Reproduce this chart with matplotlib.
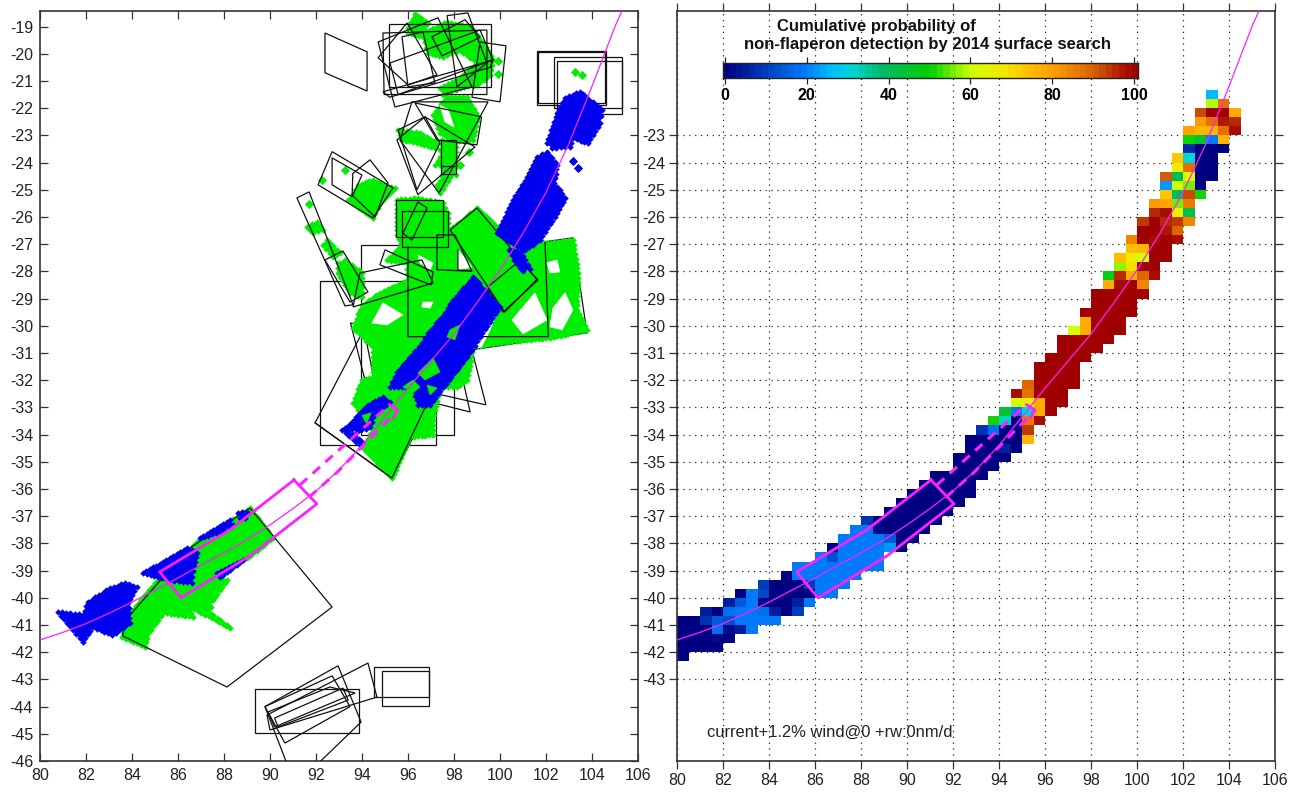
import numpy as np
import matplotlib
matplotlib.use("Agg")
import matplotlib.pyplot as plt
from matplotlib.colors import LinearSegmentedColormap
from matplotlib.patches import Polygon

plt.rcParams['font.family'] = ['Liberation Sans', 'DejaVu Sans']
plt.rcParams['axes.unicode_minus'] = False

X_TICKS = list(range(80, 107, 2))
Y_TICKS_LEFT = list(range(-46, -18))
Y_TICKS_RIGHT = list(range(-43, -22))
LON_RANGE = (80, 106)
LAT_RANGE = (-46, -18.43)

ARC_LON = [80, 81, 82, 83, 84, 85, 86, 87, 88, 89, 90, 91, 92, 93, 94, 95, 96, 97, 98, 99, 100, 101, 102, 103, 104, 105, 105.3]
ARC_LAT = [-41.55, -41.27, -40.95, -40.57, -40.16, -39.72, -39.27, -38.8, -38.35, -37.87, -37.32, -36.72, -36.08, -35.3,
           -34.4, -33.35, -32.3, -31.3, -30.3, -29.15, -27.95, -26.6, -25.1, -23.3, -21.2, -19.0, -18.43]
BOX_LON = [91.04, 92.04, 90.13, 89.13, 86.13, 85.2, 88.26, 91.04]
BOX_LAT = [-35.67, -36.55, -37.8, -38.46, -40.0, -39.05, -37.5, -35.67]
DASH_A = ([91.3, 95.2], [-35.85, -32.9])
DASH_B = ([91.7, 92.9, 95.57], [-36.3, -35.4, -33.1])
DASH_CAP = ([95.2, 95.57, 95.35], [-32.9, -33.1, -33.4])

# black survey outlines hidden below the green detections
LINES_UNDER = [
    [(92.17,-28.35),(92.17,-34.38),(97.2,-34.38),(97.2,-28.35)],
    [(93.96,-27.03),(93.96,-34),(98,-34),(98,-27.03)],
    [(91.96,-33.57),(94.78,-29),(98.12,-31.03),(95.3,-35.6)],
    [(99.39,-32.91),(98.78,-30.9),(93.5,-29.9),(94.1,-31.9)],
    [(98.7,-33.17),(98.26,-31.5),(94.2,-30.6),(94.6,-32.3)],
    [(103.17,-26.77),(103.78,-30.26),(98.39,-30.93),(97.8,-27.4)],
]
# black survey outlines visible on top of the green detections
LINES_OVER = [
    [(83.6,-41.4),(88.13,-43.28),(92.7,-40.34),(89.13,-36.7),(86.39,-38.24),(83.65,-40.89)],
    [(89.35,-43.35),(93.87,-43.35),(93.87,-44.97),(89.35,-44.97)],
    [(94.52,-42.54),(96.91,-42.54),(96.91,-43.65),(94.52,-43.65)],
    [(94.87,-42.69),(96.91,-42.69),(96.91,-43.98),(94.87,-43.98)],
    [(89.78,-44.0),(92.96,-42.5),(93.96,-44.57),(91.1,-46.9)],
    [(89.78,-44.0),(92.7,-42.87),(93.48,-44.0),(90.65,-45.34)],
    [(89.87,-44.31),(94.26,-42.4),(94.65,-43.65),(90.0,-44.86)],
    [(89.91,-44.2),(92.6,-43.28),(93.7,-43.5),(90.2,-44.75)],
    [(90.2,-44.42),(93.17,-43.32),(93.4,-43.76),(90.35,-44.75)],
    [(97.83,-26.48),(99.0,-25.67),(101.6,-28.3),(100.2,-29.5)],
    [(100.13,-29.5),(101.65,-28.32),(100.87,-27.6),(99.43,-28.6)],
    [(97.26,-26.66),(98.04,-26.66),(98.78,-28.0),(97.26,-27.94)],
    [(95.0,-27.21),(97.09,-28.02),(97.0,-28.5),(94.78,-27.76)],
    [(93.61,-29.31),(97.09,-28.43),(96.6,-27.58),(93.91,-28.06)],
    [(91.17,-25.3),(91.7,-25.08),(93.61,-29.23),(93.26,-29.27)],
    [(92.39,-27.58),(93.17,-27.25),(94.26,-28.76),(93.48,-29.13)],
    [(92.7,-23.6),(95.35,-24.93),(94.48,-26.04),(92.09,-24.82)],
    [(92.7,-23.83),(94.0,-24.46),(93.57,-25.26),(92.7,-24.82)],
    [(94.35,-23.9),(95.13,-24.75),(94.57,-26.0),(93.57,-25.2),(93.6,-24.4)],
    [(92.39,-19.24),(94.22,-19.93),(94.22,-21.37),(92.39,-20.7)],
    [(95.17,-18.9),(99.6,-18.9),(99.6,-21.22),(95.17,-21.22)],
    [(94.91,-19.24),(99.43,-19.13),(99.43,-21.5),(94.96,-21.5)],
    [(94.7,-19.57),(97.3,-18.68),(98.78,-21.22),(95.43,-21.96)],
    [(97.04,-19.38),(97.48,-20.08),(99.13,-19.4),(98.48,-18.75)],
    [(99.13,-19.57),(100.26,-19.71),(100.0,-21.77),(98.78,-21.6)],
    [(97.7,-18.6),(98.6,-18.5),(99.43,-20.34),(98.13,-21.22)],
    [(94.91,-21.4),(99.7,-20.23),(99.57,-20.5),(95.2,-21.6)],
    [(95.22,-20.34),(99.13,-19.13),(99.7,-20.23),(95.57,-21.5)],
    [(95.74,-19.38),(96.65,-19.2),(97.17,-21.07),(96.0,-21.22)],
    [(94.7,-20.15),(95.96,-18.87),(97.26,-20.78),(96.0,-21.15)],
    [(96.3,-21.81),(99.2,-22.32),(99.0,-23.35),(97.26,-23.17)],
    [(96.17,-21.77),(99.48,-21.77),(97.35,-25.12),(95.65,-23.17)],
    [(95.52,-23.17),(96.74,-22.32),(98.91,-23.43),(96.43,-25.18)],
    [(95.57,-22.8),(96.74,-22.32),(97.39,-23.28),(96.39,-25.0)],
    [(97.43,-23.17),(98.09,-23.17),(98.09,-24.42),(97.43,-24.42)],
    [(101.61,-19.9),(104.6,-19.9),(104.6,-21.88),(101.61,-21.88)],
    [(101.65,-19.95),(104.56,-19.95),(104.56,-21.82),(101.65,-21.82)],
    [(102.35,-20.12),(105.3,-20.12),(105.3,-21.99),(102.35,-21.99)],
    [(102.48,-20.26),(105.3,-20.26),(105.3,-22.2),(102.48,-22.2)],
    [(95.48,-25.37),(97.52,-25.37),(97.52,-26.74),(95.48,-26.74)],
    [(95.74,-25.78),(97.74,-25.78),(97.74,-27.1),(95.74,-27.1)],
    [(96.43,-25.45),(96.83,-25.67),(96.17,-26.85),(95.78,-26.6)],
]
STUBS_OVER = [
    [(96.0,-27.1),(96.0,-30.4),(102.1,-30.4),(101.96,-26.95)],
    [(98.17,-27.21),(98.17,-27.95),(98.7,-27.98)],
    [(91.96,-33.57),(95.3,-35.6),(97.3,-32.0)],
    [(97.48,-24.13),(98.09,-24.13)],
]

GREEN_AREAS = [
    [(83.56,-41.44),(84.57,-41.8),(84.7,-41.3),(85.35,-40.56),(86.65,-40.7),(86.4,-40.27),(88.26,-41.1),
     (87.4,-40.56),(87.5,-40.1),(88.13,-39.35),(87.7,-39.24),(89.13,-38.46),(90.13,-37.8),(89.13,-36.7),
     (86.83,-37.95),(85.35,-39.1),(83.7,-40.8)],
    [(93.61,-30.08),(94.0,-29.24),(94.78,-28.79),(95.96,-28.32),(95.96,-27.69),(95.09,-27.58),(95.52,-27.21),
     (96.09,-26.77),(97.26,-26.59),(99.87,-26.48),(102.04,-26.96),(103.17,-26.85),(103.39,-28.06),(103.35,-29.42),
     (103.78,-30.15),(102.17,-30.45),(99.87,-30.63),(98.83,-30.78),(98.57,-31.99),(98.13,-32.25),(97.39,-32.25),
     (97.09,-33.46),(97.09,-34.01),(96.09,-34.09),(95.3,-35.6),(94.0,-34.46),(94.48,-33.83),(93.61,-32.84),
     (94.0,-31.99),(94.48,-31.88),(94.48,-30.78)],
    [(97.83,-26.48),(99.0,-25.67),(100.2,-26.6),(100.6,-27.3),(99.0,-27.3)],
    [(96.3,-18.54),(96.87,-18.87),(96.52,-19.2),(96.0,-19.05)],
    [(96.0,-19.24),(96.65,-19.24),(97.7,-18.83),(98.7,-19.01),(99.26,-19.6),(99.7,-20.23),(99.57,-20.78),
     (99.0,-21.15),(98.26,-21.26),(97.52,-21.5),(97.39,-21.26),(98.26,-20.89),(99.0,-20.34),(98.26,-19.86),
     (97.52,-20.12),(96.87,-19.97),(96.65,-19.38)],
    [(97.7,-21.59),(98.57,-21.59),(99.04,-22.32),(98.83,-23.17),(98.04,-23.24),(97.39,-22.91),(97.09,-22.25)],
    [(95.57,-22.8),(96.52,-22.91),(97.26,-23.28),(97.39,-23.54),(97.17,-23.46),(96.39,-23.28),(95.74,-23.17)],
    [(97.48,-23.17),(98.09,-23.24),(98.09,-24.0),(97.17,-24.09),(97.52,-23.65)],
    [(97.48,-24.16),(98.09,-24.16),(98.09,-24.46),(97.48,-24.46)],
    [(97.52,-24.53),(97.83,-24.53),(97.39,-25.12),(97.26,-24.82)],
    [(93.57,-25.19),(93.83,-24.82),(94.48,-24.64),(95.09,-24.9),(95.43,-24.93),(94.78,-25.5),(94.48,-26.04),(93.39,-25.37)],
    [(91.61,-26.37),(92.04,-26.18),(92.3,-26.48),(91.87,-26.59)],
    [(92.48,-26.85),(93.04,-27.32),(92.74,-27.47),(92.3,-27.03)],
    [(92.96,-27.69),(93.26,-27.58),(94.0,-28.06),(94.0,-28.94),(93.48,-28.79),(92.96,-28.06)],
    [(95.52,-25.37),(96.43,-25.3),(97.52,-25.49),(97.74,-25.85),(97.74,-26.59),(97.26,-27.1),(95.78,-27.1),(95.52,-26.66)],
]
GREEN_GAPS = [
    [(94.43,-29.9),(94.91,-29.16),(95.78,-29.6),(95.09,-29.97)],
    [(100.52,-29.79),(101.52,-28.79),(102.04,-29.79),(101.0,-30.3)],
    [(102.3,-29.35),(102.83,-28.79),(103.17,-29.42),(102.7,-30.15),(102.17,-30.04)],
    [(102.04,-27.69),(102.48,-27.58),(102.6,-28.02),(102.17,-28.06)],
    [(98.91,-30.82),(99.87,-29.49),(99.57,-30.15),(99.2,-30.78)],
    [(96.65,-29.13),(97.09,-29.13),(96.96,-29.35),(96.6,-29.31)],
    [(96.43,-27.4),(97.09,-27.69),(96.96,-27.95),(96.52,-27.69)],
    [(98.17,-27.21),(98.78,-27.84),(98.17,-27.95)],
    [(97.4,-21.9),(97.75,-22.05),(98.0,-22.7),(97.6,-22.5)],
]
GREEN_DOT_LON = [99.91, 99.91, 91.7, 92.26, 93.26, 103.26, 103.57, 98.65, 98.26]
GREEN_DOT_LAT = [-20.27, -20.74, -25.52, -24.64, -24.27, -20.67, -20.78, -23.6, -24.09]

BLUE_AREAS = [
    [(80.78,-40.52),(81.87,-40.63),(82.09,-40.15),(83.04,-39.64),(83.7,-39.46),(84.2,-39.6),(83.83,-40.19),
     (83.91,-40.93),(83.13,-41.37),(82.3,-41.07),(81.87,-41.62),(81.43,-41.18)],
    [(84.48,-39.09),(85.35,-38.68),(86.39,-38.17),(86.83,-38.35),(86.65,-39.0),(86.6,-39.46),(85.65,-39.35),(85.13,-39.24)],
    [(86.96,-37.8),(88.26,-37.14),(88.39,-37.32),(87.83,-37.58)],
    [(88.6,-36.88),(89.0,-36.85),(88.91,-37.07),(88.7,-37.07)],
    [(87.7,-39.09),(88.57,-38.72),(88.83,-38.6),(88.26,-38.98),(87.83,-39.24)],
    [(103.48,-21.4),(104.43,-22.07),(104.35,-22.54),(103.83,-23.29),(103.17,-23.1),(103.04,-23.43),(102.26,-23.46),
     (102.04,-23.29),(102.48,-22.18),(102.83,-21.63)],
    [(102.04,-23.61),(102.48,-24.09),(102.35,-24.75),(102.83,-25.3),(102.48,-25.85),(101.74,-26.84),(101.09,-27.21),
     (100.43,-26.92),(99.87,-26.59),(100.57,-25.38),(101.17,-24.53),(101.61,-23.79)],
    [(98.26,-28.76),(98.83,-28.21),(99.43,-28.8),(100.0,-29.31),(99.13,-30.41),(98.78,-30.89),(98.13,-31.63),
     (97.52,-32.25),(96.96,-32.91),(96.43,-32.91),(96.22,-32.25),(95.22,-32.25),(95.52,-31.7),(96.17,-31.07),
     (96.61,-30.63),(96.87,-30.26),(97.48,-29.68),(97.96,-29.05)],
    [(93.35,-33.72),(94.26,-32.91),(94.91,-32.62),(95.22,-32.81),(94.57,-33.17),(94.35,-33.72),(93.78,-33.9)],
    [(93.13,-33.83),(93.26,-33.76),(94.0,-34.27),(93.91,-34.38)],
    [(100.4,-27.2),(100.9,-27.3),(101.3,-27.9),(101.0,-28.0),(100.6,-27.6)],
]
GREEN_IN_BLUE = [
    [(96.43,-31.74),(97.09,-31.18),(97.39,-31.7),(96.74,-31.99)],
    [(95.78,-32.25),(96.22,-31.99),(96.52,-32.25),(96.22,-32.47)],
    [(96.83,-32.18),(97.26,-32.29),(96.96,-32.54)],
    [(97.83,-30.15),(98.26,-29.97),(98.04,-30.52),(97.7,-30.41)],
    [(94.0,-33.3),(94.4,-33.2),(94.2,-33.6)],
]
BLUE_DOT_LON = [103.17, 103.39]
BLUE_DOT_LAT = [-23.94, -24.2]

# probability grid: each row runs (first longitude, cell values), top row first
HEAT_TOP_LAT = -21.3333
HEAT_ROWS = [
    (103.0,[25]),(103.0,[58,86]),(102.5,[92,99,99,78]),(102.5,[80,87,96,95]),(102.0,[79,75,75,86,98]),
    (102.0,[50,44,20,75]),(102.0,[7,0,0,0]),(101.5,[72,30,0,0]),(101.5,[66,86,0,0]),(101.0,[90,40,62,0,0]),
    (101.0,[23,60,55,0]),(101.0,[72,38,91,50]),(100.5,[80,79,55,85]),(100.5,[95,97,65,42]),(100.0,[93,99,95,93,84]),
    (100.0,[100,100,96,89]),(99.5,[83,100,98,100,97]),(99.5,[74,76,100,100]),(99.0,[74,66,60,100,100]),(99.0,[57,70,100,100]),
    (98.5,[47,95,78,88,97]),(98.5,[78,98,100,83]),(98.0,[100,100,100,100,100]),(98.0,[100,100,100,100]),(97.5,[100,100,100,100,100]),
    (97.5,[78,100,100,100]),(97.0,[60,78,100,100,100]),(96.5,[100,100,100,100,100]),(96.5,[100,100,100,100]),(96.0,[100,100,100,100]),
    (95.5,[100,100,100,100]),(95.5,[100,100,100,100]),(95.0,[88,100,100,100,100]),(94.5,[97,86,100,100,100]),(94.5,[60,66,78,100,100]),
    (94.0,[44,20,30,78,100]),(93.5,[50,32,0,85,97]),(93.0,[8,18,0,0,93]),(92.5,[0,0,0,0,0,76]),(92.5,[0,0,0,5,0]),
    (92.0,[0,0,0,0,0]),(92.0,[0,0,0,0]),(91.0,[0,0,0,0,0]),(90.5,[0,0,0,0,0]),(90.0,[0,0,0,0,0,0]),
    (89.5,[0,0,0,0,0,0]),(89.0,[0,0,0,0,0,0]),(88.0,[8,0,0,0,0,0,0]),(87.5,[20,20,3,0,0,0,0]),(87.0,[20,20,20,20,15,0,0]),
    (86.5,[0,20,20,20,20,22,0]),(86.0,[20,14,20,20,20,20]),(85.0,[20,20,20,20,20,20,20,20]),(84.5,[0,20,20,20,20,20,20]),
    (83.5,[10,0,0,0,10,20,20,20]),(82.5,[0,20,12,0,0,0,0,20,20]),(82.0,[5,15,20,3,0,0,6,20]),(81.0,[6,0,18,20,20,18,5,0,10]),
    (80.0,[0,0,8,15,14,20,20,20,20]),(80.0,[0,0,0,18,3,6,20]),(80.0,[0,0,0,2,0]),(80.0,[0,0,0,0]),(80.0,[0]),
]
CMAP_STOPS = [0, 10, 20, 26, 31, 38, 50, 56, 60, 68, 74, 80, 90, 96, 100]
CMAP_COLORS = ['#000080', '#0040c0', '#0080ff', '#00c0ff', '#00d8d0', '#00b868', '#00d000', '#80f000',
               '#d0ff00', '#f4e800', '#ffc000', '#ffa000', '#d86000', '#b02000', '#a00000']
CBAR_TICKS = [0, 20, 40, 60, 80, 100]
TITLE_LINES = ['Cumulative probability of', 'non-flaperon detection by 2014 surface search']
NOTE = 'current+1.2% wind@0 +rw:0nm/d'

W, H = 1301, 792
fig = plt.figure(figsize=(W / 100, H / 100), dpi=100)
axL = fig.add_axes([40 / W, (H - 761) / H, 598 / W, 750 / H])
axR = fig.add_axes([677 / W, (H - 761) / H, 598 / W, 750 / H])

GREEN, BLUE, MAG = '#00ee00', '#0000ee', '#ff20ff'
SPINE = '#333333'


def poly(ax, pts, **kw):
    ax.add_patch(Polygon(pts, **kw))


def rim(pts, step=0.16):
    """Walk a blob's outline so its edge can be stamped with diamond plot symbols."""
    out = []
    closed = list(pts) + [pts[0]]
    for (x0, y0), (x1, y1) in zip(closed[:-1], closed[1:]):
        n = max(1, int(np.hypot(x1 - x0, y1 - y0) / step))
        t = np.arange(n) / n
        out.extend(zip(x0 + (x1 - x0) * t, y0 + (y1 - y0) * t))
    return np.array(out)


def blob(ax, pts, colour, z):
    poly(ax, pts, fc=colour, ec=colour, lw=0.5, zorder=z)
    edge = rim(pts)
    ax.scatter(edge[:, 0], edge[:, 1], marker='D', s=11, c=colour, linewidths=0, zorder=z)


for ax in (axL, axR):
    ax.set_xlim(*LON_RANGE)
    ax.set_ylim(*LAT_RANGE)
    ax.set_xticks(X_TICKS)
    for s in ax.spines.values():
        s.set_color(SPINE)
        s.set_linewidth(1.2)

axL.set_yticks(Y_TICKS_LEFT)
axL.tick_params(direction='in', length=6, width=0.9, top=True, right=True, labelsize=11.5,
                labelcolor='#222222', color='#333333', pad=5)
axR.set_yticks(Y_TICKS_RIGHT)
axR.tick_params(direction='out', length=5.5, width=0.9, top=True, right=True, labelsize=11.5,
                labelcolor='#222222', color='#333333', pad=3)
axR.grid(True, color='#222222', linestyle=(0, (1, 3.7)), linewidth=0.9, zorder=0)
axR.set_axisbelow(True)

# left panel
for pts in LINES_UNDER:
    poly(axL, pts, fill=False, ec='#111111', lw=0.9, zorder=2)
for pts in GREEN_AREAS:
    blob(axL, pts, GREEN, 3)
axL.scatter(GREEN_DOT_LON, GREEN_DOT_LAT, marker='D', s=22, c=GREEN, linewidths=0, zorder=3)
for pts in GREEN_GAPS:
    poly(axL, pts, fc='white', ec='white', lw=0.5, zorder=3.2)
for pts in LINES_OVER:
    poly(axL, pts, fill=False, ec='#111111', lw=0.9, zorder=4)
for pts in STUBS_OVER:
    xs, ys = zip(*pts)
    axL.plot(xs, ys, color='#111111', lw=0.9, zorder=4)
for pts in BLUE_AREAS:
    blob(axL, pts, BLUE, 5)
for pts in GREEN_IN_BLUE:
    poly(axL, pts, fc=GREEN, ec=GREEN, lw=0.5, zorder=5.1)
axL.scatter(BLUE_DOT_LON, BLUE_DOT_LAT, marker='D', s=22, c=BLUE, linewidths=0, zorder=5)

# right panel
lon_edges = np.arange(LON_RANGE[0], LON_RANGE[1] + 0.25, 0.5)
lat_edges = HEAT_TOP_LAT - np.arange(len(HEAT_ROWS) + 1) / 3.0
grid = np.full((len(HEAT_ROWS), len(lon_edges) - 1), np.nan)
for r, (start, vals) in enumerate(HEAT_ROWS):
    c0 = int(round((start - LON_RANGE[0]) * 2))
    grid[r, c0:c0 + len(vals)] = vals
stops = [s / 100 for s in CMAP_STOPS]
cmap = LinearSegmentedColormap.from_list('search', list(zip(stops, CMAP_COLORS)), N=64)
axR.pcolormesh(lon_edges, lat_edges, grid, cmap=cmap, vmin=0, vmax=100, zorder=2, linewidth=0, antialiased=False)

for ax in (axL, axR):
    ax.plot(ARC_LON, ARC_LAT, color=MAG, lw=0.9, zorder=6)
    ax.plot(BOX_LON, BOX_LAT, color=MAG, lw=2.0, zorder=6, solid_joinstyle='round')
    for xs, ys in (DASH_A, DASH_B):
        ax.plot(xs, ys, color=MAG, lw=2.2, linestyle=(0, (3.2, 2.4)), zorder=6)
    ax.plot(*DASH_CAP, color=MAG, lw=1.8, zorder=6)

# colour bar
cax = fig.add_axes([723 / W, (H - 78) / H, 415 / W, 15 / H])
cax.imshow(np.linspace(0, 100, 256)[None, :], aspect='auto', cmap=cmap, vmin=0, vmax=100,
           extent=(-0.5, 101, 0, 1), interpolation='nearest')
cax.set_yticks([])
cax.set_xticks(CBAR_TICKS)
cax.tick_params(axis='x', direction='out', length=4.5, width=0.9, top=True, labelsize=11.5, pad=3, color='#222222')
for lb in cax.get_xticklabels():
    lb.set_fontweight('bold')
for s in cax.spines.values():
    s.set_linewidth(1.0)
    s.set_color('#222222')

fig.text(876 / W, (H - 27) / H, TITLE_LINES[0], ha='center', va='center', fontsize=12, fontweight='bold', color='#111111')
fig.text(927 / W, (H - 45) / H, TITLE_LINES[1], ha='center', va='center', fontsize=12, fontweight='bold', color='#111111')
fig.text(707 / W, (H - 732) / H, NOTE, ha='left', va='center', fontsize=11.9, color='#222222')

fig.savefig('out.png', dpi=100)
